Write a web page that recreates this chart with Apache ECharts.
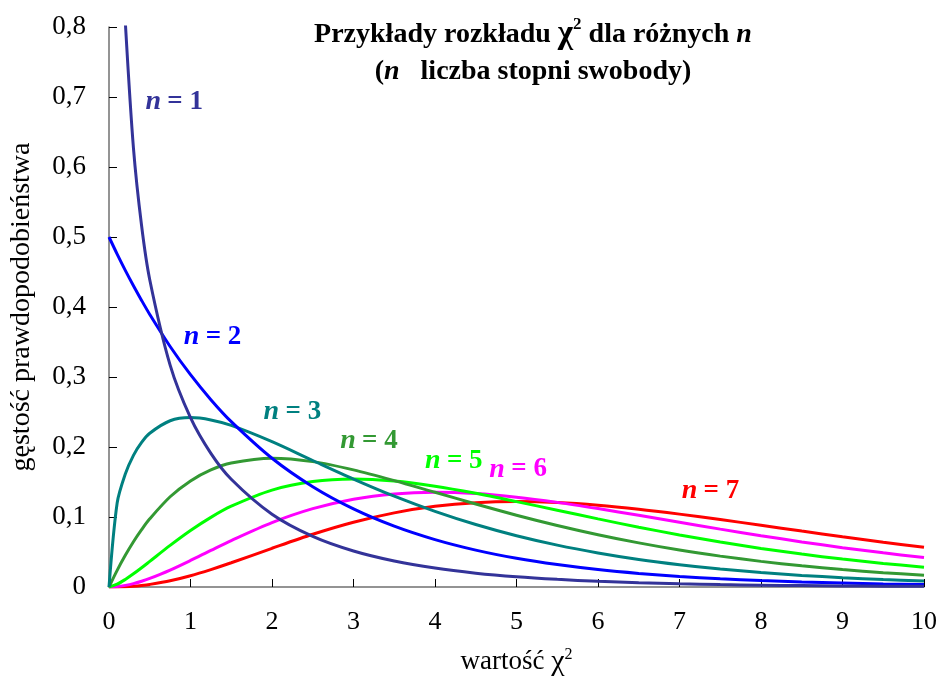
<!DOCTYPE html>
<html>
<head>
<meta charset="utf-8">
<script src="https://cdn.jsdelivr.net/npm/echarts@6/dist/echarts.min.js"></script>
<style>
  html, body { margin: 0; padding: 0; background: #fff; }
  #chart { width: 943px; height: 684px; }
</style>
</head>
<body>
<div id="chart"></div>
<script>
// x values (wartość chi^2)
const xs = [0, 0.1, 0.2, 0.3, 0.4, 0.5, 0.75, 1, 1.25, 1.5, 2, 2.5, 3, 3.5, 4, 4.5, 5, 5.5, 6, 6.5, 7, 7.5, 8, 8.5, 9, 9.5, 10];

// gęstość for each n
const n1 = [null, null, 0.807, 0.627, 0.516, 0.439, 0.317, 0.242, 0.191, 0.154, 0.104, 0.0723, 0.0514, 0.0371, 0.0270, 0.0198, 0.0146, 0.0109, 0.0081, 0.0061, 0.0046, 0.0034, 0.0026, 0.0020, 0.0015, 0.0011, 0.0009];
const n2 = [0.5, 0.4756, 0.4524, 0.4304, 0.4094, 0.3894, 0.3436, 0.3033, 0.2676, 0.2362, 0.1839, 0.1433, 0.1116, 0.0869, 0.0677, 0.0527, 0.0410, 0.0320, 0.0249, 0.0194, 0.0151, 0.0118, 0.0092, 0.0071, 0.0056, 0.0043, 0.0034];
const n3 = [0, 0.1200, 0.1614, 0.1881, 0.2066, 0.2197, 0.2375, 0.2420, 0.2387, 0.2308, 0.2076, 0.1807, 0.1542, 0.1297, 0.1080, 0.0892, 0.0732, 0.0598, 0.0487, 0.0394, 0.0319, 0.0257, 0.0207, 0.0166, 0.0133, 0.0106, 0.0085];
const n4 = [0, 0.0238, 0.0452, 0.0646, 0.0819, 0.0974, 0.1289, 0.1516, 0.1673, 0.1771, 0.1839, 0.1791, 0.1673, 0.1520, 0.1353, 0.1186, 0.1026, 0.0879, 0.0747, 0.0630, 0.0528, 0.0441, 0.0366, 0.0303, 0.0250, 0.0205, 0.0168];
const n5 = [0, 0.0040, 0.0108, 0.0188, 0.0275, 0.0366, 0.0594, 0.0807, 0.0995, 0.1154, 0.1384, 0.1506, 0.1542, 0.1513, 0.1440, 0.1338, 0.1220, 0.1097, 0.0973, 0.0854, 0.0744, 0.0642, 0.0551, 0.0470, 0.0399, 0.0337, 0.0283];
const n6 = [0, 0.0006, 0.0023, 0.0048, 0.0082, 0.0122, 0.0242, 0.0379, 0.0523, 0.0664, 0.0920, 0.1119, 0.1255, 0.1330, 0.1353, 0.1334, 0.1283, 0.1209, 0.1120, 0.1024, 0.0925, 0.0827, 0.0733, 0.0644, 0.0562, 0.0488, 0.0421];
const n7 = [0, 0.0001, 0.0004, 0.0011, 0.0022, 0.0037, 0.0089, 0.0161, 0.0249, 0.0346, 0.0553, 0.0753, 0.0925, 0.1059, 0.1152, 0.1204, 0.1220, 0.1206, 0.1168, 0.1111, 0.1041, 0.0964, 0.0882, 0.0799, 0.0718, 0.0640, 0.0567];

const seriesNames = ['n = 1', 'n = 2', 'n = 3', 'n = 4', 'n = 5', 'n = 6', 'n = 7'];
const colors = ['#333399', '#0000ff', '#008080', '#339933', '#00ff00', '#ff00ff', '#ff0000'];
// where each "n = k" label sits, in data units
const labelAt = [[0.8, 0.693], [1.27, 0.357], [2.25, 0.25], [3.19, 0.209], [4.23, 0.18], [5.02, 0.168], [7.38, 0.137]];

const allSeries = [n1, n2, n3, n4, n5, n6, n7];
const serif = '"Liberation Serif", "DejaVu Serif", serif';

const chart = echarts.init(document.getElementById('chart'));

const series = allSeries.map((vals, i) => ({
    name: seriesNames[i],
    type: 'line',
    smooth: 0.3,
    showSymbol: false,
    clip: true,
    z: 10 - i,
    lineStyle: { color: colors[i], width: 3 },
    data: xs.map((x, j) => [x, vals[j]]),
    markPoint: {
        symbol: 'circle',
        symbolSize: 1,
        itemStyle: { color: 'rgba(0,0,0,0)' },
        silent: true,
        data: [{
            coord: labelAt[i],
            label: {
                show: true,
                position: 'inside',
                formatter: '{i|n} {t|= ' + (i + 1) + '}',
                rich: {
                    i: { fontFamily: serif, fontStyle: 'italic', fontWeight: 'bold', fontSize: 28, color: colors[i], padding: [0, 3, 0, 0] },
                    t: { fontFamily: serif, fontWeight: 'bold', fontSize: 27, color: colors[i] }
                }
            }
        }]
    }
}));

chart.setOption({
    animation: false,
    backgroundColor: '#fff',
    title: {
        text: '{b|Przykłady rozkładu }{chi|χ}{sup|2}{b| dla różnych }{i|n}\n{b|(}{i|n}{b|   liczba stopni swobody)}',
        left: 528,
        top: 11,
        textAlign: 'center',
        textStyle: {
            lineHeight: 37,
            rich: {
                b: { fontFamily: serif, fontWeight: 'bold', fontSize: 28, color: '#000', lineHeight: 37 },
                i: { fontFamily: serif, fontWeight: 'bold', fontStyle: 'italic', fontSize: 28, color: '#000', lineHeight: 37 },
                chi: { fontFamily: serif, fontWeight: 'bold', fontSize: 33, color: '#000', lineHeight: 37 },
                sup: { fontFamily: serif, fontWeight: 'bold', fontSize: 17, color: '#000', verticalAlign: 'top', padding: [0, 0, 14, 0] }
            }
        }
    },
    grid: { left: 107, right: 19, top: 27, bottom: 97 },
    xAxis: {
        type: 'value',
        min: 0,
        max: 10,
        interval: 1,
        name: '{t|wartość }{c|χ}{s|2}',
        nameLocation: 'middle',
        nameGap: 60,
        nameTextStyle: {
            rich: {
                t: { fontFamily: serif, fontSize: 27, color: '#000' },
                c: { fontFamily: serif, fontSize: 30, color: '#000' },
                s: { fontFamily: serif, fontSize: 16, color: '#000', verticalAlign: 'top', padding: [0, 0, 14, 0] }
            }
        },
        axisLine: { show: true, lineStyle: { color: '#707070', width: 1.5 } },
        axisTick: { show: true, inside: true, length: 8, lineStyle: { color: '#000', width: 1 } },
        axisLabel: { fontFamily: serif, fontSize: 26, color: '#000', margin: 22 },
        splitLine: { show: false }
    },
    yAxis: {
        type: 'value',
        min: 0,
        max: 0.8,
        interval: 0.1,
        name: 'gęstość prawdopodobieństwa',
        nameLocation: 'middle',
        nameGap: 73,
        nameRotate: 90,
        nameTextStyle: { fontFamily: serif, fontSize: 28, color: '#000' },
        axisLine: { show: true, lineStyle: { color: '#707070', width: 1.5 } },
        axisTick: { show: true, inside: true, length: 8, lineStyle: { color: '#000', width: 1 } },
        axisLabel: {
            fontFamily: serif, fontSize: 27, color: '#000', margin: 23,
            formatter: v => v === 0 ? '0' : v.toFixed(1).replace('.', ',')
        },
        splitLine: { show: false }
    },
    series: series
});
</script>
</body>
</html>
